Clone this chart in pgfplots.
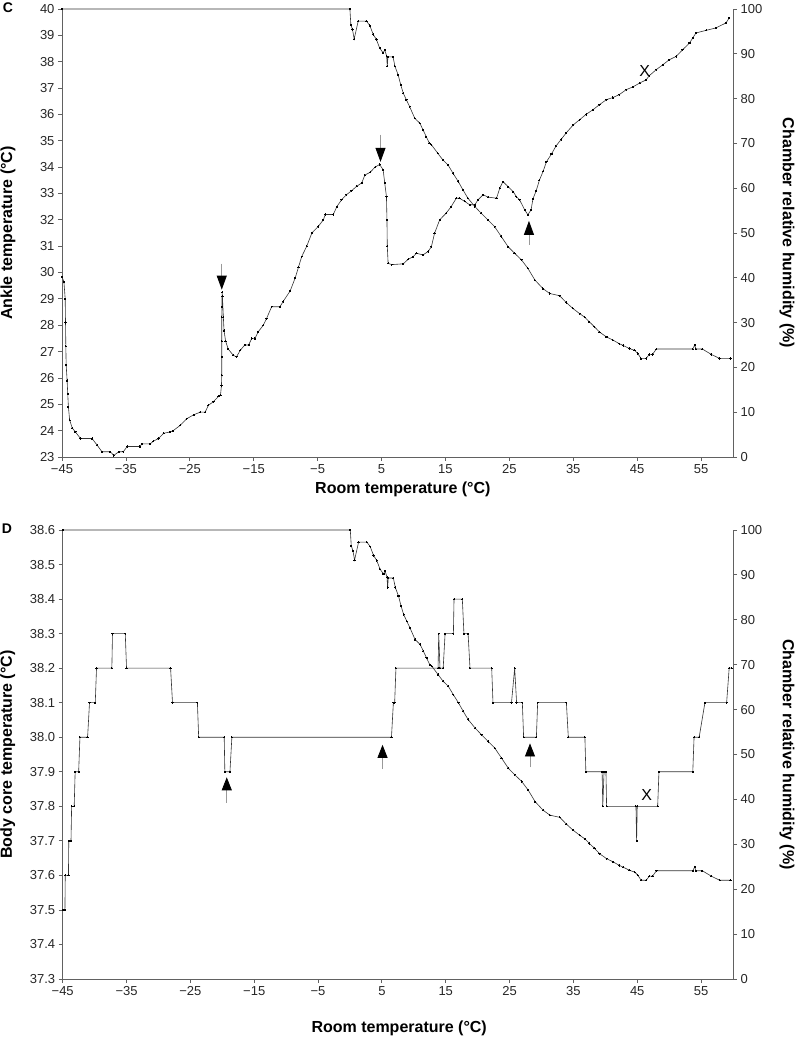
\documentclass[border=0pt]{standalone}
\usepackage{pgfplots}
\pgfplotsset{compat=1.18}
\usepackage{pgfplotstable}
\usepackage{fontspec}
\setmainfont{Liberation Sans}
\usetikzlibrary{arrows.meta}

% Chamber relative humidity (%) vs room temperature
\pgfplotstableread{
x y
-45 100
0.05 100
0.2 96.5
0.46 95.4
0.72 93.3
1.35 97.3
2.65 97.3
3.17 96.3
3.7 94.3
4.2 93.2
4.7 91.3
5.25 90.2
5.5 90.9
5.8 89.5
5.9 87.2
6.0 89.3
6.8 89.3
7.1 87.2
7.6 85.3
8.0 83.1
8.4 81.2
8.9 79.7
9.4 78.2
10.2 75.6
11.0 74.5
11.5 73.0
12.0 71.5
12.5 70.0
12.8 69.7
13.8 67.8
14.6 66.3
15.4 65.2
16.2 63.3
17.0 61.5
17.75 59.6
18.5 57.8
19.6 55.9
20.6 54.4
21.66 52.9
22.7 51.4
23.74 49.2
24.8 46.95
25.8 45.5
26.9 44.0
27.9 42.1
29.0 39.5
30.25 37.6
31.3 36.5
32.86 36.0
33.9 34.5
34.9 33.2
36.0 32.0
36.8 31.2
37.5 30.2
38.3 29.1
39.1 27.9
40.2 26.8
41.2 26.1
42.2 25.3
42.8 24.9
43.8 24.2
44.6 23.8
45.1 23.1
45.6 22.0
46.4 22.0
46.9 22.9
47.4 22.9
48.0 24.1
53.7 24.1
54.0 25.0
54.2 24.1
55.2 24.1
56.6 22.9
57.9 22.0
59.6 22.0
}\humid

% Ankle temperature (deg C)
\pgfplotstableread{
x y
-45 29.84
-44.7 29.65
-44.5 29.0
-44.45 28.1
-44.4 27.2
-44.35 26.5
-44.2 25.9
-44.1 25.4
-44.0 24.9
-43.8 24.4
-43.4 24.1
-42.9 23.95
-42.1 23.7
-40.3 23.7
-39.5 23.45
-38.75 23.2
-37.45 23.2
-36.9 23.06
-36.1 23.2
-35.4 23.2
-34.8 23.4
-32.8 23.4
-32.5 23.5
-31.2 23.5
-30.7 23.6
-29.9 23.7
-29.1 23.9
-28.1 23.95
-27.6 24.0
-26.5 24.2
-25.5 24.45
-24.4 24.6
-23.4 24.7
-22.6 24.7
-22.1 24.96
-21.3 25.1
-20.5 25.3
-20.2 25.35
-20.05 25.7
-20.0 26.1
-20.0 26.8
-20.0 27.4
-20.0 28.3
-19.97 28.7
-19.95 29.25
-19.9 29.1
-19.75 28.3
-19.65 27.8
-19.4 27.4
-19.0 27.1
-18.2 26.86
-17.7 26.8
-17.1 27.05
-16.4 27.25
-15.8 27.25
-15.3 27.5
-14.8 27.5
-14.3 27.75
-13.5 28.0
-13.0 28.25
-12.2 28.7
-10.9 28.7
-10.4 28.9
-9.3 29.3
-8.5 29.8
-8.0 30.2
-7.5 30.6
-6.7 31.0
-5.9 31.5
-4.9 31.75
-4.1 32.0
-3.8 32.2
-2.55 32.2
-2.0 32.5
-1.25 32.76
-0.5 32.95
0.3 33.1
1.1 33.27
1.9 33.4
2.4 33.7
3.2 33.8
4.0 34.0
4.7 34.1
5.25 33.9
5.5 33.4
5.77 32.88
5.85 32.0
5.9 31.0
6.03 30.35
6.6 30.3
8.4 30.33
9.16 30.5
9.94 30.6
10.46 30.73
11.5 30.67
12.3 30.8
12.8 30.98
13.3 31.49
14.1 32.0
15.1 32.25
15.9 32.5
16.7 32.82
17.2 32.82
18.0 32.7
18.8 32.57
19.6 32.57
20.1 32.76
20.9 32.95
21.7 32.86
23.0 32.82
23.5 33.2
24.0 33.45
24.8 33.26
25.6 33.07
26.1 32.88
26.6 32.76
27.4 32.38
27.9 32.19
28.4 32.38
28.7 32.8
29.2 33.1
29.7 33.5
30.3 33.85
30.8 34.2
31.6 34.5
32.3 34.8
33.1 35.05
33.9 35.3
35.0 35.6
36.0 35.8
37.0 36.0
38.1 36.18
39.1 36.37
40.2 36.56
41.2 36.64
42.2 36.75
43.3 36.94
44.3 37.04
45.4 37.19
46.4 37.31
46.9 37.47
48.0 37.7
49.0 37.88
50.0 38.07
51.1 38.2
52.1 38.45
53.2 38.71
53.7 38.9
54.2 39.09
55.8 39.19
57.3 39.28
58.9 39.47
59.4 39.66
}\ankle

% Body core temperature (deg C)
\pgfplotstableread{
x y
-45 37.5
-44.65 37.5
-44.6 37.6
-44.1 37.6
-44.05 37.7
-43.7 37.7
-43.6 37.8
-43.2 37.8
-43.05 37.9
-42.5 37.9
-42.3 38.0
-41.1 38.0
-40.8 38.1
-39.9 38.1
-39.7 38.2
-37.3 38.2
-37.2 38.3
-35.2 38.3
-35.0 38.2
-28.1 38.2
-27.8 38.1
-23.9 38.1
-23.7 38.0
-19.7 38.0
-19.6 37.9
-18.8 37.9
-18.5 38.0
6.5 38.0
6.8 38.1
7.0 38.1
7.2 38.2
13.8 38.2
13.9 38.3
14.1 38.2
14.6 38.2
14.9 38.3
16.2 38.3
16.3 38.4
17.6 38.4
17.85 38.3
18.5 38.3
18.8 38.2
22.2 38.2
22.4 38.1
25.3 38.1
25.8 38.2
26.1 38.1
27.0 38.1
27.2 38.0
29.2 38.0
29.4 38.1
33.9 38.1
34.2 38.0
36.8 38.0
36.95 37.9
39.5 37.9
39.6 37.8
39.8 37.9
40.1 37.9
40.2 37.8
44.8 37.8
44.9 37.7
45.0 37.8
48.2 37.8
48.4 37.9
53.7 37.9
53.9 38.0
54.7 38.0
55.6 38.1
59.0 38.1
59.4 38.2
59.8 38.2
}\core

\newcommand{\lblfont}{\bfseries\fontsize{16}{19}\selectfont}

\pgfplotsset{
  base/.style={
    scale only axis, xmin=-45, xmax=60,
    tick align=outside, major tick length=4pt,
    axis line style={black!62, line width=0.8pt},
    tick style={black!62, line width=0.8pt},
    tick label style={font=\fontsize{13}{15}\selectfont, text=black!85},
    /pgf/number format/assume math mode=true,
    clip=false,
  },
  series/.style={black!80, line width=0.6pt, mark=*, mark size=0.6pt,
    mark options={black, line width=0pt}},
  xt/.style={xtick={-45,-35,...,55},
    xticklabels={−45,−35,−25,−15,−5,5,15,25,35,45,55}},
}

\begin{document}
\begin{tikzpicture}[x=1pt,y=1pt]
\useasboundingbox (0,0) rectangle (795,1039);

\node[font=\bfseries\fontsize{14}{16}\selectfont] at (8,1031.5) {C};
\node[font=\bfseries\fontsize{14}{16}\selectfont] at (7,510) {D};

% ---------- Panel C ----------
\begin{axis}[base, xt, at={(62pt,582pt)}, anchor=south west,
  width=671pt, height=448pt,
  ymin=23, ymax=40, ytick={23,24,...,40},
  axis x line*=bottom, axis y line*=left,
  xlabel={Room temperature (°C)}, ylabel={Ankle temperature (°C)},
  every axis x label/.style={at={(axis description cs:0.508,-0.0714)}, anchor=center, font=\lblfont},
  every axis y label/.style={at={(axis description cs:-0.0805,0.5)}, rotate=90, anchor=center, font=\lblfont}]
\addplot[series] table {\ankle};
\draw[black!40, line width=0.8pt, -{Triangle[length=14pt,width=10pt,black]}]
  (axis cs:-20.0,30.34) -- (axis cs:-20.0,29.35);
\draw[black!40, line width=0.8pt, -{Triangle[length=14pt,width=10pt,black]}]
  (axis cs:4.84,35.23) -- (axis cs:4.84,34.2);
\draw[black!40, line width=0.8pt, -{Triangle[length=14pt,width=10pt,black]}]
  (axis cs:28.07,31.05) -- (axis cs:28.07,31.96);
\node[font=\fontsize{16}{18}\selectfont] at (axis cs:46.18,37.66) {X};
\end{axis}
\begin{axis}[base, at={(62pt,582pt)}, anchor=south west,
  width=671pt, height=448pt,
  ymin=0, ymax=100, ytick={0,10,...,100},
  axis x line=none, axis y line*=right,
  ylabel={Chamber relative humidity (\%)},
  every axis y label/.style={at={(axis description cs:1.0805,0.5)}, rotate=-90, anchor=center, font=\lblfont}]
\addplot[series] table {\humid};
\end{axis}

% ---------- Panel D ----------
\begin{axis}[base, xt, at={(62.7pt,60pt)}, anchor=south west,
  width=670.3pt, height=449pt,
  ymin=37.3, ymax=38.6,
  ytick={37.3,37.4,37.5,37.6,37.7,37.8,37.9,38.0,38.1,38.2,38.3,38.4,38.5,38.6},
  yticklabels={37.3,37.4,37.5,37.6,37.7,37.8,37.9,38.0,38.1,38.2,38.3,38.4,38.5,38.6},
  axis x line*=bottom, axis y line*=left,
  xlabel={Room temperature (°C)}, ylabel={Body core temperature (°C)},
  every axis x label/.style={at={(axis description cs:0.502,-0.1091)}, anchor=center, font=\lblfont},
  every axis y label/.style={at={(axis description cs:-0.082,0.5)}, rotate=90, anchor=center, font=\lblfont}]
\addplot[series] table {\core};
\draw[black!40, line width=0.8pt, -{Triangle[length=13pt,width=10pt,black]}]
  (axis cs:-19.3,37.81) -- (axis cs:-19.3,37.884);
\draw[black!40, line width=0.8pt, -{Triangle[length=13pt,width=10pt,black]}]
  (axis cs:5.1,37.908) -- (axis cs:5.1,37.978);
\draw[black!40, line width=0.8pt, -{Triangle[length=13pt,width=10pt,black]}]
  (axis cs:28.2,37.913) -- (axis cs:28.2,37.982);
\node[font=\fontsize{16}{18}\selectfont] at (axis cs:46.5,37.832) {X};
\end{axis}
\begin{axis}[base, at={(62.7pt,60pt)}, anchor=south west,
  width=670.3pt, height=449pt,
  ymin=0, ymax=100, ytick={0,10,...,100},
  axis x line=none, axis y line*=right,
  ylabel={Chamber relative humidity (\%)},
  every axis y label/.style={at={(axis description cs:1.0806,0.5)}, rotate=-90, anchor=center, font=\lblfont}]
\addplot[series] table {\humid};
\end{axis}
\end{tikzpicture}
\end{document}
